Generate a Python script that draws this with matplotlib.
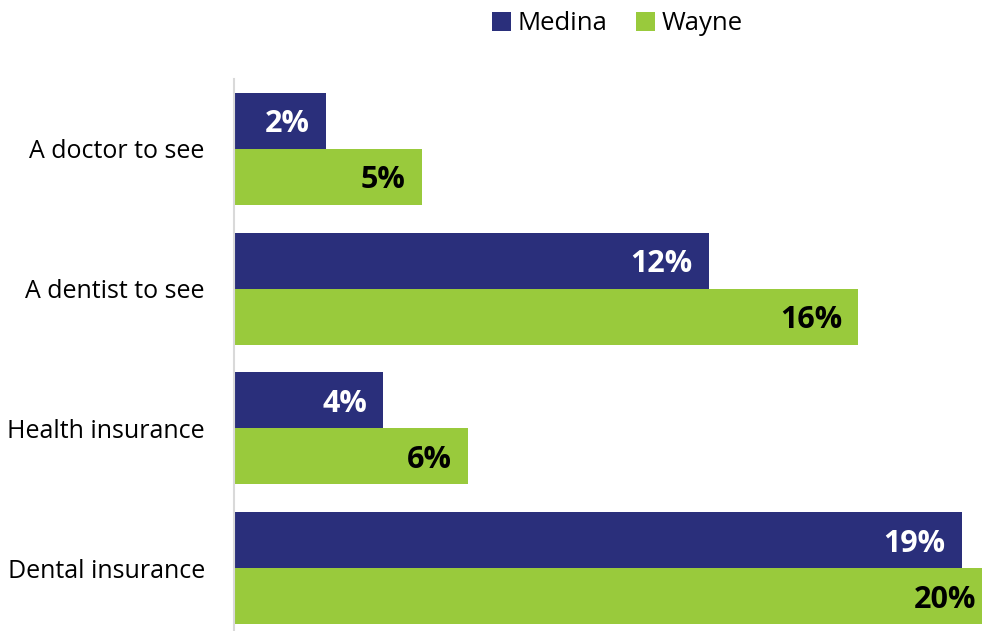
import matplotlib.pyplot as plt
import numpy as np

categories = ["A doctor to see", "A dentist to see", "Health insurance", "Dental insurance"]
medina = [2.4, 12.4, 3.9, 19.0]
wayne = [4.9, 16.3, 6.1, 19.8]
medina_labels = ["2%", "12%", "4%", "19%"]
wayne_labels = ["5%", "16%", "6%", "20%"]

NAVY = "#2A2F7B"
GREEN = "#99CA3C"

plt.rcParams["font.family"] = ["Open Sans", "DejaVu Sans"]

fig = plt.figure(figsize=(9.82, 6.31), dpi=100)
ax = fig.add_axes([234 / 982, 0.0, 1 - 234 / 982, (631 - 79) / 631])

y = np.arange(len(categories))
h = 0.4
b1 = ax.barh(y - h / 2, medina, height=h, color=NAVY, label="Medina")
b2 = ax.barh(y + h / 2, wayne, height=h, color=GREEN, label="Wayne")

# labels sit inside the bar end, nudged down a touch to look centred
for bar, lab in zip(b1, medina_labels):
    ax.text(bar.get_width() - 0.42, bar.get_y() + bar.get_height() / 2 + 0.025, lab,
            ha="right", va="center", color="white", fontsize=22, fontweight="bold")
for bar, lab in zip(b2, wayne_labels):
    ax.text(bar.get_width() - 0.42, bar.get_y() + bar.get_height() / 2 + 0.025, lab,
            ha="right", va="center", color="black", fontsize=22, fontweight="bold")

ax.set_xlim(0, 19.53)
ax.set_ylim(3.45, -0.5)
ax.set_yticks(y)
ax.set_yticklabels(categories, fontsize=18)
ax.tick_params(axis="y", length=0, pad=21)
ax.set_xticks([])
for s in ["top", "right", "bottom"]:
    ax.spines[s].set_visible(False)
ax.spines["left"].set_color("#D9D9D9")
ax.spines["left"].set_linewidth(1.5)

fig.legend(handles=[b1, b2], labels=["Medina", "Wayne"], loc="center",
           bbox_to_anchor=(617 / 982, 1 - 24 / 631), ncol=2, frameon=False,
           fontsize=18.5, handlelength=0.75, handleheight=0.75, handletextpad=0.25,
           columnspacing=1.1)

fig.savefig("out.png", dpi=100)
